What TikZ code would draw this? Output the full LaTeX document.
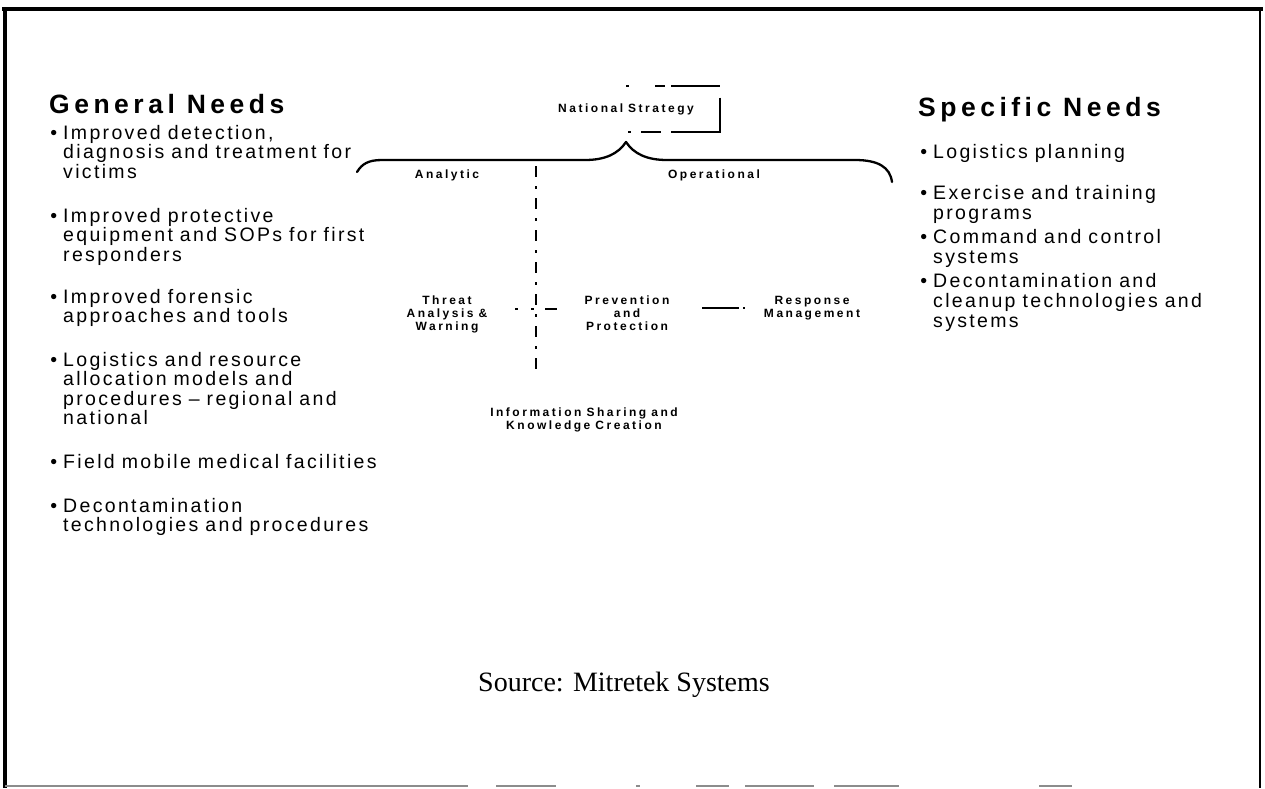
\documentclass[tikz,border=0pt]{standalone}
\usepackage{fontspec}
\setmainfont{Liberation Sans}
\newfontfamily\headfont[LetterSpace=17]{Liberation Sans}
\newfontfamily\bodyfont[LetterSpace=12]{Liberation Sans}
\newfontfamily\labelfont[LetterSpace=21]{Liberation Sans}
\newfontfamily\srcfont{Liberation Serif}
\newcommand\bulletmark{\llap{\textbullet\hspace{6pt}}}

\begin{document}
\begin{tikzpicture}[x=1pt, y=-1pt,
  heading/.style={anchor=base west, inner sep=0,
    font=\headfont\bfseries\fontsize{26.5}{30}\selectfont},
  needitem/.style={anchor=base west, inner sep=0, text width=340, align=left,
    font=\bodyfont\fontsize{19.5}{19.6}\selectfont,
    execute at begin node={\spaceskip=0.36em\relax}},
  rneeditem/.style={needitem, font=\bodyfont\fontsize{19.5}{20}\selectfont},
  lbl/.style={anchor=base, inner sep=0, align=center,
    font=\labelfont\bfseries\fontsize{12}{13.3}\selectfont,
    execute at begin node={\spaceskip=0.42em\relax}},
  link/.style={line width=1.8},
  bracepath/.style={line width=2.3, line cap=round, line join=round}]
\useasboundingbox (0,0) rectangle (1265,788);

% page frame
\draw[line width=4.5] (2,9) -- (1263,9);
\draw[line width=4] (5,7) -- (5,788);
\draw[line width=2.5] (1260,8) -- (1260,788);
\draw[black!45, line width=2,
  dash pattern=on 463 off 28 on 60 off 80 on 4 off 56 on 33 off 16 on 69 off 20 on 65 off 140 on 33 off 300]
  (5,786) -- (1260,786);

% left column
\node[heading] (gen) at (49,113) {General Needs};
\node[needitem] (g1) at (63,139) {\bulletmark Improved detection,\\diagnosis and treatment for\\victims};
\node[needitem] (g2) at (63,222) {\bulletmark Improved protective\\equipment and SOPs for first\\responders};
\node[needitem] (g3) at (63,303) {\bulletmark Improved forensic\\approaches and tools};
\node[needitem] (g4) at (63,366) {\bulletmark Logistics and resource\\allocation models and\\procedures – regional and\\national};
\node[needitem] (g5) at (63,468) {\bulletmark Field mobile medical facilities};
\node[needitem] (g6) at (63,512) {\bulletmark Decontamination\\technologies and procedures};

% right column
\node[heading] (spec) at (918,116) {Specific Needs};
\node[rneeditem] (s1) at (933,158) {\bulletmark Logistics planning};
\node[rneeditem] (s2) at (933,199) {\bulletmark Exercise and training\\programs};
\node[rneeditem] (s3) at (933,243) {\bulletmark Command and control\\systems};
\node[rneeditem] (s4) at (933,287) {\bulletmark Decontamination and\\cleanup technologies and\\systems};

% national strategy box, only partly printed
\node[lbl, anchor=center, minimum width=188, minimum height=46] (ns) at (626,109) {National Strategy};
\draw[link, dash pattern=on 3 off 26 on 10 off 6 on 49 off 12 on 84 off 10 on 20 off 10 on 3 off 100]
  (ns.north) -- (ns.north east) -- (ns.south east) -- (ns.south);

% brace under the strategy
\coordinate (tip) at (626,142);
\coordinate (bl) at (357,172);
\coordinate (br) at (892,182);
\draw[bracepath] (bl) .. controls (362,164) and (368,160) .. (382,160) -- (585,160)
  .. controls (605,160) and (618,154) .. (tip)
  .. controls (634,154) and (647,160) .. (667,160) -- (855,160)
  .. controls (878,160) and (890,167) .. (br);

\node[lbl] (ana) at (447,178) {Analytic};
\node[lbl] (ope) at (714,178) {Operational};

% divider between analytic and operational
\coordinate (vtop) at (536,166);
\coordinate (vbot) at (536,376);
\draw[link, dash pattern=on 11 off 9 on 3 off 9] (vtop) -- (vbot);

% functions
\node[lbl, text width=130] (threat) at (447,304) {Threat\\Analysis \&\\Warning};
\node[lbl, text width=130] (prev) at (627,304) {Prevention\\and\\Protection};
\node[lbl, text width=140] (resp) at (812,304) {Response\\Management};
\node[lbl, text width=300] (info) at (584,416) {Information Sharing and\\Knowledge Creation};

% connectors run between the printed text edges
\draw[link, dash pattern=on 3 off 13 on 3 off 11 on 12]
  ([xshift=3pt, yshift=5pt]threat.east) -- ([xshift=-5pt, yshift=5pt]threat.east -| prev.west);
\draw[link, dash pattern=on 37 off 4 on 2 off 20]
  ([xshift=10pt, yshift=5pt]prev.east) -- ([xshift=3pt, yshift=5pt]prev.east -| resp.west);

% source line
\node[anchor=base, inner sep=0, font=\srcfont\fontsize{28}{32}\selectfont] (src) at (624,691) {Source: Mitretek Systems};
\end{tikzpicture}
\end{document}
